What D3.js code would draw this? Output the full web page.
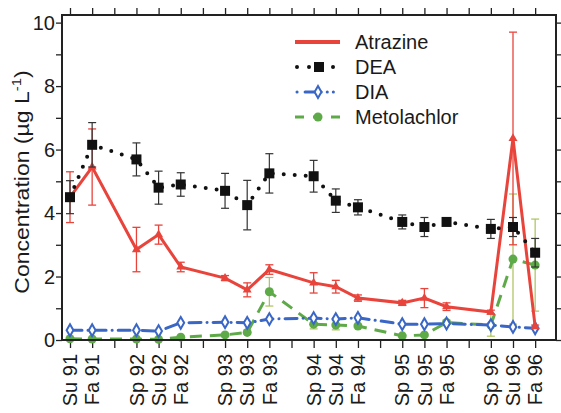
<!DOCTYPE html>
<html>
<head>
<meta charset="utf-8">
<script src="https://cdn.jsdelivr.net/npm/d3@7"></script>
<style>
  body { margin: 0; background: #fff; }
  svg text { font-family: "Liberation Sans", Arial, sans-serif; fill: #1a1a1a; }
</style>
</head>
<body>
<div id="chart"></div>
<script>
// every season on the axis (winters have no samples)
const seasons = ["Su 91", "Fa 91", "Wi 91", "Sp 92", "Su 92", "Fa 92", "Wi 92", "Sp 93", "Su 93", "Fa 93", "Wi 93",
    "Sp 94", "Su 94", "Fa 94", "Wi 94", "Sp 95", "Su 95", "Fa 95", "Wi 95", "Sp 96", "Su 96", "Fa 96", "Wi 96"];
// sampled seasons
const samples = ["Su 91", "Fa 91", "Sp 92", "Su 92", "Fa 92", "Sp 93", "Su 93", "Fa 93",
    "Sp 94", "Su 94", "Fa 94", "Sp 95", "Su 95", "Fa 95", "Sp 96", "Su 96", "Fa 96"];

const atrazine = [4.5, 5.45, 2.85, 3.32, 2.3, 1.95, 1.58, 2.22, 1.8, 1.68, 1.32, 1.17, 1.32, 1.05, 0.88, 6.35, 0.42];
const atrazineErr = [0.8, 1.2, 0.7, 0.3, 0.15, 0.08, 0.22, 0.15, 0.32, 0.2, 0.1, 0.08, 0.3, 0.12, 0.06, 3.35, 0.05];
const dea = [4.5, 6.15, 5.69, 4.8, 4.9, 4.7, 4.25, 5.25, 5.16, 4.39, 4.18, 3.72, 3.56, 3.72, 3.5, 3.56, 2.75];
const deaErr = [0.52, 0.7, 0.52, 0.52, 0.37, 0.55, 0.78, 0.62, 0.5, 0.37, 0.24, 0.22, 0.3, 0.1, 0.3, 0.3, 0.45];
const dia = [0.31, 0.31, 0.31, 0.28, 0.54, 0.56, 0.54, 0.66, 0.69, 0.66, 0.7, 0.5, 0.5, 0.52, 0.47, 0.41, 0.37];
const metolachlor = [0.04, 0.03, 0.03, 0.02, 0.09, 0.16, 0.24, 1.52, 0.5, 0.47, 0.44, 0.13, 0.16, 0.55, 0.47, 2.55, 2.36];
const metolachlorErr = [0, 0, 0, 0, 0, 0, 0, 0.45, 0.15, 0.15, 0.05, 0, 0, 0.05, 0.35, 2.05, 1.45];

const yTicks = [0, 2, 4, 6, 8, 10];

const width = 561;
const height = 413;
const pLeft = 62, pRight = 556, pTop = 15, pBottom = 340;

const svg = d3.select('#chart').append('svg')
    .attr('width', width)
    .attr('height', height);

const x = d3.scalePoint()
    .domain(seasons)
    .range([70, 70 + 22.15 * (seasons.length - 1)]);

const y = d3.scaleLinear()
    .domain([0, 10.24])
    .range([pBottom, pTop]);

const red = '#e8443c', blue = '#3a66c6', green = '#5eaa48', greenBar = '#a9c25a';

// 轴
const tickVals = seasons.slice(0, 22);
svg.append('g')
    .attr('transform', `translate(0,${pBottom})`)
    .call(d3.axisBottom(x).tickValues(tickVals).tickSize(8).tickFormat(''))
    .call(g => g.select('.domain').remove())
    .selectAll('line').attr('stroke', '#222').attr('stroke-width', 1.3);
svg.append('g')
    .attr('transform', `translate(0,${pTop})`)
    .call(d3.axisTop(x).tickValues(tickVals).tickSize(7).tickFormat(''))
    .call(g => g.select('.domain').remove())
    .selectAll('line').attr('stroke', '#222').attr('stroke-width', 1.3);

const minor = d3.range(0, 11);
svg.append('g')
    .attr('transform', `translate(${pLeft},0)`)
    .call(d3.axisLeft(y).tickValues(minor).tickSize(6).tickFormat(''))
    .call(g => g.select('.domain').remove())
    .selectAll('line').attr('stroke', '#222').attr('stroke-width', 1.3);
svg.append('g')
    .attr('transform', `translate(${pRight},0)`)
    .call(d3.axisRight(y).tickValues(minor).tickSize(6).tickFormat(''))
    .call(g => g.select('.domain').remove())
    .selectAll('line').attr('stroke', '#222').attr('stroke-width', 1.3);

svg.append('g').selectAll('text')
    .data(yTicks)
    .enter()
    .append('text')
    .attr('x', pLeft - 7)
    .attr('y', d => y(d))
    .attr('dy', '0.36em')
    .attr('text-anchor', 'end')
    .style('font-size', '20px')
    .text(d => d);

svg.append('g').selectAll('text')
    .data(samples)
    .enter()
    .append('text')
    .attr('transform', d => `translate(${x(d)},354) rotate(-90)`)
    .attr('dy', '0.36em')
    .attr('text-anchor', 'end')
    .style('font-size', '20px')
    .text(d => d);

svg.append('text')
    .attr('transform', 'translate(29,182) rotate(-90) scale(1.15,1)')
    .attr('text-anchor', 'middle')
    .style('font-size', '20px')
    .html('Concentration  (µg L<tspan dy="-8" style="font-size:13px">-1</tspan><tspan dy="8">)</tspan>');

// 误差线
function errorBars(vals, errs, color, w, cls) {
    const g = svg.append('g').attr('class', cls);
    samples.forEach((s, i) => {
        if (!errs[i]) return;
        const cx = x(s), y1 = y(vals[i] - errs[i]), y2 = y(vals[i] + errs[i]);
        g.append('line').attr('x1', cx).attr('x2', cx).attr('y1', y1).attr('y2', y2)
            .attr('stroke', color).attr('stroke-width', w);
        [y1, y2].forEach(yy => {
            g.append('line').attr('x1', cx - 4).attr('x2', cx + 4).attr('y1', yy).attr('y2', yy)
                .attr('stroke', color).attr('stroke-width', w);
        });
    });
}

const lineGenerator = vals => d3.line()
    .x((d, i) => x(samples[i]))
    .y(d => y(d))(vals);

// Metolachlor
errorBars(metolachlor, metolachlorErr, greenBar, 1.2, 'met-err');
svg.append('path').attr('d', lineGenerator(metolachlor))
    .style('fill', 'none').style('stroke', green).style('stroke-width', 3)
    .style('stroke-dasharray', '12,8');
svg.append('g').selectAll('circle')
    .data(metolachlor).enter().append('circle')
    .attr('cx', (d, i) => x(samples[i])).attr('cy', d => y(d))
    .attr('r', 4.5).attr('fill', green);

// DIA
const diamond = d3.symbol().type(d3.symbolDiamond).size(40);
svg.append('path').attr('d', lineGenerator(dia))
    .style('fill', 'none').style('stroke', blue).style('stroke-width', 3)
    .style('stroke-dasharray', '12,6,0.1,6').style('stroke-linecap', 'round');
svg.append('g').selectAll('path')
    .data(dia).enter().append('path')
    .attr('d', diamond)
    .attr('transform', (d, i) => `translate(${x(samples[i])},${y(d)})`)
    .attr('fill', '#fff').attr('stroke', blue).attr('stroke-width', 2);

// Atrazine
errorBars(atrazine, atrazineErr, red, 1.3, 'atr-err');
svg.append('path').attr('d', lineGenerator(atrazine))
    .style('fill', 'none').style('stroke', red).style('stroke-width', 3);
svg.append('g').selectAll('path')
    .data(atrazine).enter().append('path')
    .attr('d', d3.symbol().type(d3.symbolTriangle).size(35))
    .attr('transform', (d, i) => `translate(${x(samples[i])},${y(d)})`)
    .attr('fill', red);

// DEA
errorBars(dea, deaErr, '#333', 1.2, 'dea-err');
svg.append('path').attr('d', lineGenerator(dea))
    .style('fill', 'none').style('stroke', '#111').style('stroke-width', 4)
    .style('stroke-dasharray', '0,11').style('stroke-linecap', 'round');
svg.append('g').selectAll('rect')
    .data(dea).enter().append('rect')
    .attr('x', (d, i) => x(samples[i]) - 5).attr('y', d => y(d) - 5)
    .attr('width', 10).attr('height', 10).attr('fill', '#111');

// 边框
svg.append('rect')
    .attr('x', pLeft).attr('y', pTop)
    .attr('width', pRight - pLeft).attr('height', pBottom - pTop)
    .attr('fill', 'none').attr('stroke', '#222').attr('stroke-width', 2);

// 图例
const legend = svg.append('g').attr('class', 'legend');
const names = ['Atrazine', 'DEA', 'DIA', 'Metolachlor'];
names.forEach((n, i) => {
    const ly = 42 + i * 25;
    legend.append('text').attr('x', 355).attr('y', ly).attr('dy', '0.36em')
        .style('font-size', '20px').text(n);
});
legend.append('line').attr('x1', 295).attr('x2', 340).attr('y1', 42).attr('y2', 42)
    .attr('stroke', red).attr('stroke-width', 4);
legend.append('line').attr('x1', 297).attr('x2', 340).attr('y1', 67).attr('y2', 67)
    .attr('stroke', '#111').attr('stroke-width', 4)
    .attr('stroke-dasharray', '0,12').attr('stroke-linecap', 'round');
legend.append('rect').attr('x', 314).attr('y', 62).attr('width', 10).attr('height', 10).attr('fill', '#111');
legend.append('line').attr('x1', 297).attr('x2', 340).attr('y1', 92).attr('y2', 92)
    .attr('stroke', blue).attr('stroke-width', 3)
    .attr('stroke-dasharray', '0.1,8,10,6,0.1,6,0.1,6').attr('stroke-linecap', 'round');
legend.append('path').attr('d', diamond)
    .attr('transform', 'translate(318,92)')
    .attr('fill', '#fff').attr('stroke', blue).attr('stroke-width', 2);
legend.append('line').attr('x1', 295).attr('x2', 340).attr('y1', 117).attr('y2', 117)
    .attr('stroke', green).attr('stroke-width', 3)
    .attr('stroke-dasharray', '9,9');
legend.append('circle').attr('cx', 318).attr('cy', 117).attr('r', 4.5).attr('fill', green);
</script>
</body>
</html>
